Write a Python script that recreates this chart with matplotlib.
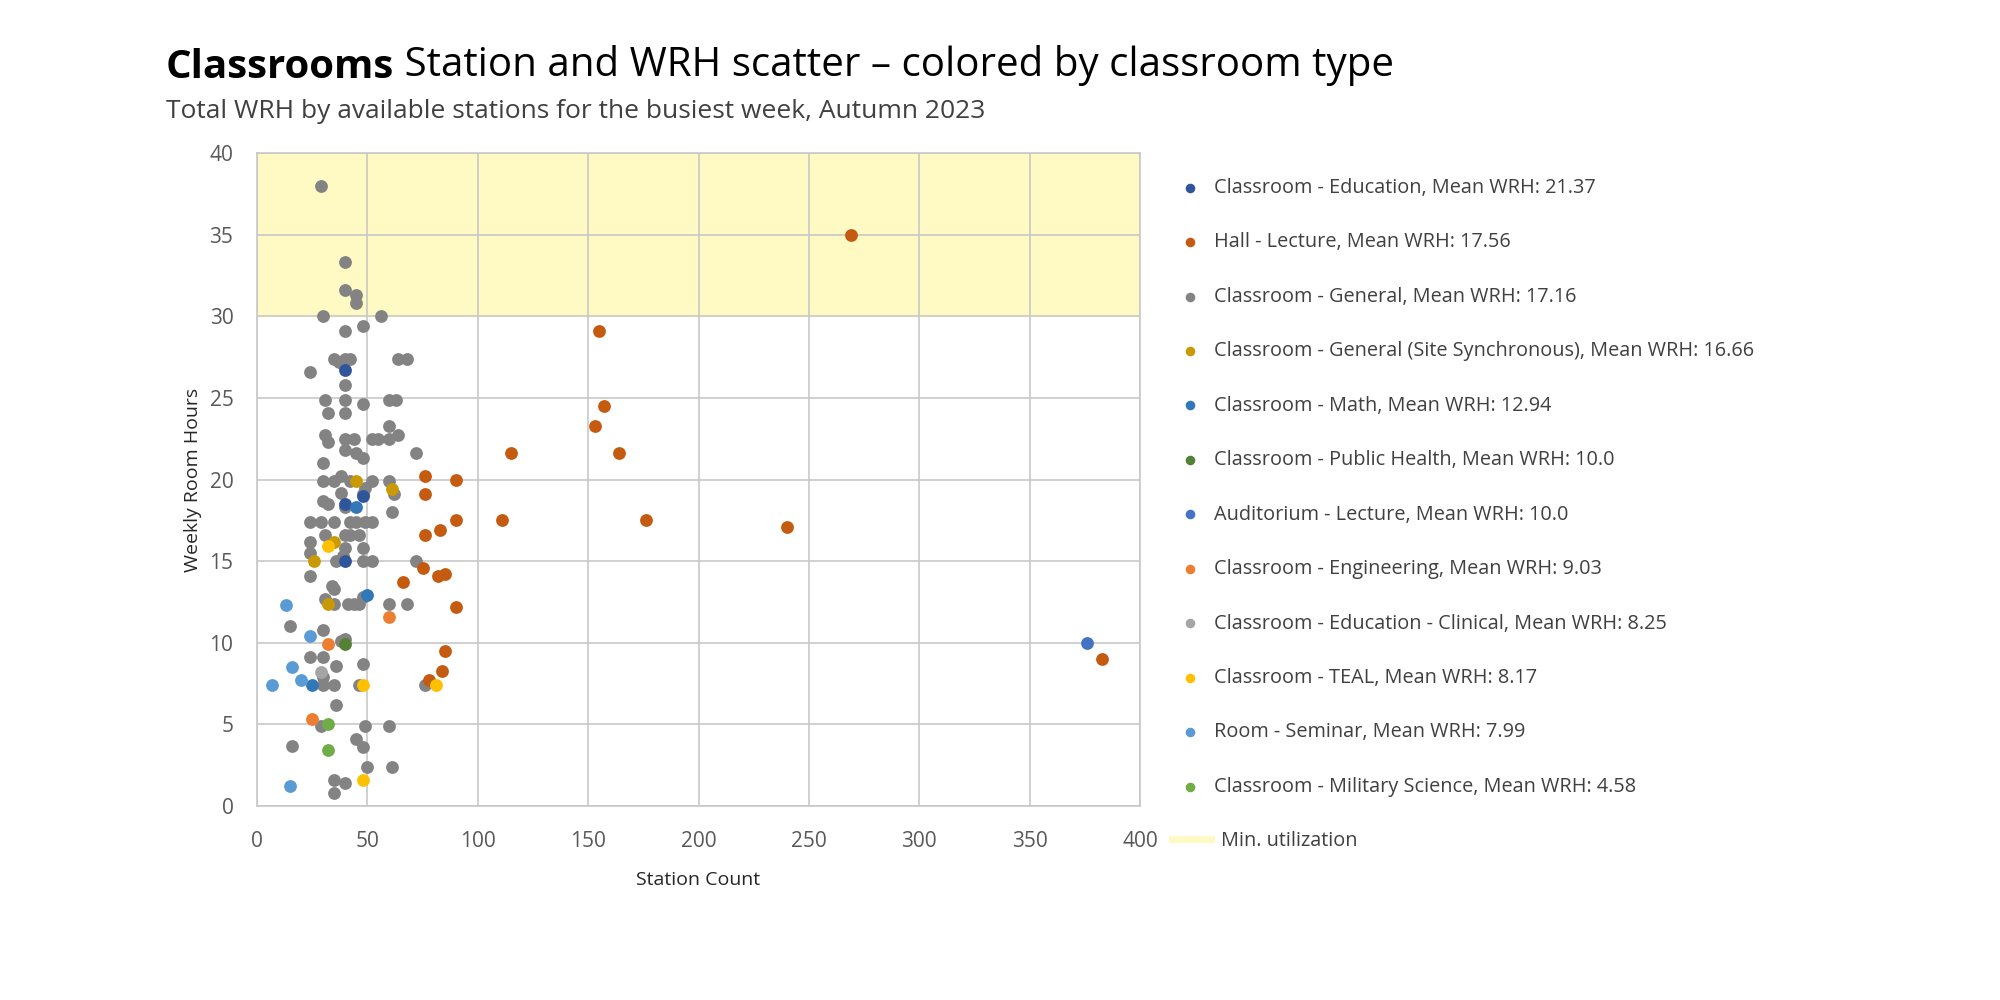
import matplotlib.pyplot as plt
from matplotlib.lines import Line2D

plt.rcParams['font.family'] = ['Open Sans', 'DejaVu Sans']

# station count / weekly room hours per room type
edu_x = [40, 40, 48, 40]
edu_y = [26.7, 15.0, 19.0, 18.5]

hall_x = [269, 155, 157, 153, 164, 115, 76, 90, 76, 176, 111, 90, 240, 83, 76,
          66, 75, 82, 85, 90, 85, 84, 78, 383]
hall_y = [35.0, 29.1, 24.5, 23.3, 21.6, 21.6, 20.2, 20.0, 19.1, 17.5, 17.5, 17.5,
          17.1, 16.9, 16.6, 13.7, 14.6, 14.1, 14.2, 12.2, 9.5, 8.3, 7.7, 9.0]

gen_x = [29, 40, 40, 45, 45, 30, 56, 40, 48,
         35, 37, 40, 42, 64, 68, 24, 40, 31, 40, 48, 60, 63, 32, 40, 60, 31, 32,
         40, 44, 52, 55, 60, 64, 72, 40, 45, 48, 30, 30, 35, 38, 42, 52, 60, 49,
         48, 62, 38, 30, 32, 40, 61, 24, 29, 35, 42, 45, 49, 52, 31, 40, 42, 46,
         24, 40, 48, 24,
         36, 39, 48, 52, 72, 24, 34, 35, 31, 35, 41, 44, 46, 48, 60, 68, 15, 30,
         38, 40, 24, 30, 36, 48, 30, 30, 35, 46, 76, 36, 29, 49, 60, 45, 48, 16,
         50, 61, 35, 40, 35]
gen_y = [38.0, 33.3, 31.6, 31.3, 30.8, 30.0, 30.0, 29.1, 29.4,
         27.4, 27.2, 27.4, 27.4, 27.4, 27.4, 26.6, 25.8, 24.9, 24.9, 24.6, 24.9,
         24.9, 24.1, 24.1, 23.3, 22.7, 22.3, 22.5, 22.5, 22.5, 22.5, 22.5, 22.7,
         21.6, 21.8, 21.6, 21.3, 21.0, 19.9, 19.9, 20.2, 19.9, 19.9, 19.9, 19.5,
         19.1, 19.1, 19.2, 18.7, 18.5, 18.3, 18.0, 17.4, 17.4, 17.4, 17.4, 17.4,
         17.4, 17.4, 16.6, 16.6, 16.6, 16.6, 16.2, 15.8, 15.8, 15.5,
         15.0, 15.3, 15.0, 15.0, 15.0, 14.1, 13.5, 13.3, 12.7, 12.4, 12.4, 12.4,
         12.4, 12.8, 12.4, 12.4, 11.0, 10.8, 10.1, 10.2, 9.1, 9.1, 8.6, 8.7, 7.9,
         7.4, 7.4, 7.4, 7.4, 6.2, 4.9, 4.9, 4.9, 4.1, 3.6, 3.7, 2.4, 2.4, 1.6,
         1.4, 0.8]

sync_x = [26, 32, 45, 61, 35]
sync_y = [15.0, 12.4, 19.9, 19.4, 16.2]

math_x = [50, 45, 25]
math_y = [12.9, 18.3, 7.4]

health_x = [40]
health_y = [9.9]

aud_x = [376]
aud_y = [10.0]

eng_x = [60, 32, 25]
eng_y = [11.6, 9.9, 5.3]

clin_x = [29]
clin_y = [8.2]

teal_x = [48, 81, 48, 32]
teal_y = [7.4, 7.4, 1.6, 15.9]

sem_x = [13, 24, 16, 7, 20, 15]
sem_y = [12.3, 10.4, 8.5, 7.4, 7.7, 1.2]

mil_x = [32, 32]
mil_y = [5.0, 3.4]

labels = ['Classroom - Education, Mean WRH: 21.37',
          'Hall - Lecture, Mean WRH: 17.56',
          'Classroom - General, Mean WRH: 17.16',
          'Classroom - General (Site Synchronous), Mean WRH: 16.66',
          'Classroom - Math, Mean WRH: 12.94',
          'Classroom - Public Health, Mean WRH: 10.0',
          'Auditorium - Lecture, Mean WRH: 10.0',
          'Classroom - Engineering, Mean WRH: 9.03',
          'Classroom - Education - Clinical, Mean WRH: 8.25',
          'Classroom - TEAL, Mean WRH: 8.17',
          'Room - Seminar, Mean WRH: 7.99',
          'Classroom - Military Science, Mean WRH: 4.58']
colors = ['#2f559a', '#c55a11', '#838383', '#c99a06', '#3277b8', '#548235',
          '#4472c4', '#ed7d31', '#a5a5a5', '#ffc000', '#5b9bd5', '#70ad47']
xs = [edu_x, hall_x, gen_x, sync_x, math_x, health_x, aud_x, eng_x, clin_x,
      teal_x, sem_x, mil_x]
ys = [edu_y, hall_y, gen_y, sync_y, math_y, health_y, aud_y, eng_y, clin_y,
      teal_y, sem_y, mil_y]

min_util = 30
band_color = '#fffac4'
grid_color = '#c8c8c8'
text_color = '#404040'

fig = plt.figure(figsize=(20, 10), dpi=100)
ax = fig.add_axes([0.1285, 0.194, 0.4415, 0.653])

ax.axhspan(min_util, 40, color=band_color, zorder=0)

# plot general first so the smaller groups sit on top
order = [2, 1, 0, 3, 4, 5, 6, 7, 8, 9, 10, 11]
handles = [None] * len(labels)
for i in order:
    handles[i] = ax.scatter(xs[i], ys[i], s=85, color=colors[i], label=labels[i],
                            linewidths=0, zorder=3)

ax.set_xlim(0, 400)
ax.set_ylim(0, 40)
ax.set_xticks(range(0, 401, 50))
ax.set_yticks(range(0, 41, 5))
ax.grid(True, color=grid_color, linewidth=1.2)
ax.set_axisbelow(True)
for sp in ax.spines.values():
    sp.set_color(grid_color)
    sp.set_linewidth(1.2)
ax.tick_params(length=0, labelsize=15, labelcolor='#595959')
ax.tick_params(axis='x', pad=18)
ax.tick_params(axis='y', pad=17)

ax.set_xlabel('Station Count', fontsize=14, color='#262626', labelpad=14)
ax.set_ylabel('Weekly Room Hours', fontsize=14, color='#262626', labelpad=5)

fig.legend(handles=handles, loc='upper left',
           bbox_to_anchor=(0.580, 0.840), frameon=False, fontsize=14.3,
           labelcolor=text_color, labelspacing=1.735, handlelength=1.2,
           handletextpad=0.62, markerscale=0.75)

band_handle = Line2D([], [], color=band_color, linewidth=5,
                     label='Min. utilization')
fig.legend(handles=[band_handle], loc='center left',
           bbox_to_anchor=(0.577, 0.1595), frameon=False, fontsize=14.3,
           labelcolor=text_color, handlelength=1.96, handletextpad=0.5)

t1 = fig.text(0.083, 0.9225, 'Classrooms', fontsize=29, fontweight='bold',
              color='black', va='baseline')
fig.canvas.draw()
ax.annotate(' Station and WRH scatter \u2013 colored by classroom type',
            xy=(1, 0), xycoords=t1, va='bottom', fontsize=29, color='black')
fig.text(0.083, 0.882, 'Total WRH by available stations for the busiest week, Autumn 2023',
         fontsize=19, color=text_color, va='baseline')

fig.savefig('out.png', dpi=100)
